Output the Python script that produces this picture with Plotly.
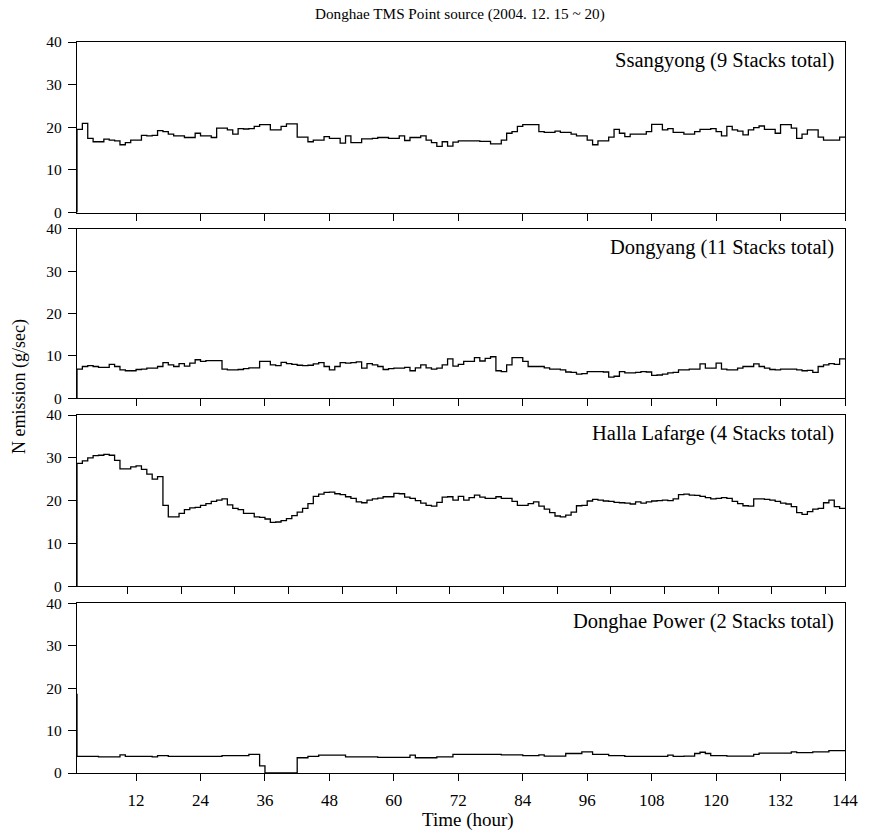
import plotly.graph_objects as go
from plotly.subplots import make_subplots

# ---------------- data (hourly N emission, g/sec) ----------------
# first value = level at hour 1 (start), value k = level held over hour k..k+1
HOURS = list(range(1, 145))

SSANGYONG = [
    0.0, 19.5, 20.9, 17.4, 16.6, 16.6, 17.2, 17.0, 16.8, 15.9,
    16.4, 17.0, 17.0, 18.1, 18.0, 18.1, 19.2, 19.0, 18.4, 18.0,
    18.0, 17.6, 17.6, 18.6, 18.0, 18.0, 17.6, 19.8, 19.8, 19.4,
    18.4, 19.7, 19.6, 19.7, 20.2, 20.6, 20.6, 19.4, 19.4, 20.2,
    20.8, 20.8, 17.7, 17.7, 16.6, 17.0, 17.0, 17.8, 17.4, 17.4,
    16.3, 18.0, 16.4, 16.4, 17.3, 17.3, 17.4, 17.6, 17.6, 17.4,
    17.4, 18.0, 16.9, 17.6, 17.6, 18.0, 17.0, 16.4, 15.5, 16.6,
    15.6, 16.5, 16.8, 16.8, 16.8, 16.8, 16.7, 16.7, 16.1, 16.1,
    17.0, 18.6, 19.0, 20.2, 20.6, 20.6, 20.6, 19.0, 18.8, 18.8,
    19.1, 18.8, 18.8, 18.4, 18.0, 18.0, 17.0, 15.9, 16.8, 16.8,
    17.7, 19.5, 18.6, 17.8, 18.4, 18.4, 18.4, 19.0, 20.7, 20.7,
    19.4, 19.7, 18.8, 18.8, 18.4, 18.4, 19.0, 19.5, 19.5, 19.7,
    19.0, 18.0, 20.2, 19.4, 19.1, 18.2, 19.4, 19.9, 20.3, 19.5,
    19.5, 18.6, 20.6, 20.6, 19.8, 17.4, 18.4, 19.4, 19.4, 17.7,
    17.0, 17.0, 17.0, 17.7,
]

DONGYANG = [
    0.0, 6.9, 7.5, 7.7, 7.5, 7.3, 7.3, 8.0, 7.5, 6.7,
    6.5, 6.5, 6.8, 6.9, 7.1, 7.1, 7.5, 8.4, 7.9, 7.5,
    8.2, 7.6, 8.3, 9.1, 8.7, 8.9, 8.9, 8.9, 6.9, 6.7,
    6.7, 6.8, 7.0, 7.2, 7.2, 8.7, 8.7, 7.9, 7.7, 8.5,
    8.2, 8.0, 7.8, 7.7, 7.8, 8.1, 8.4, 7.5, 6.7, 7.5,
    8.4, 8.3, 8.4, 8.6, 7.1, 8.2, 7.9, 7.5, 6.8, 7.0,
    7.1, 7.1, 7.3, 6.5, 7.2, 7.9, 7.2, 6.9, 7.1, 7.9,
    9.3, 7.6, 8.0, 8.7, 8.7, 9.6, 8.8, 9.4, 9.8, 6.5,
    6.3, 7.9, 9.6, 9.6, 8.7, 7.5, 7.5, 7.5, 7.2, 6.9,
    6.9, 6.7, 6.2, 6.1, 5.7, 5.8, 6.3, 6.3, 6.3, 6.2,
    5.0, 5.2, 6.3, 6.0, 6.0, 6.1, 6.3, 6.2, 5.4, 5.5,
    5.7, 6.0, 6.1, 6.7, 6.7, 6.9, 6.9, 8.1, 7.1, 7.1,
    8.3, 6.9, 6.7, 6.7, 7.1, 7.5, 7.5, 8.1, 7.5, 7.1,
    6.8, 6.7, 6.9, 6.9, 6.9, 6.7, 6.5, 6.6, 6.1, 7.5,
    7.9, 8.2, 8.0, 9.3,
]

HALLA_LAFARGE = [
    0.0, 28.7, 29.3, 30.0, 30.5, 30.6, 30.8, 30.6, 29.4, 27.4,
    27.4, 27.9, 28.1, 27.3, 26.2, 25.0, 25.6, 18.9, 16.2, 16.2,
    17.0, 17.9, 18.3, 18.4, 18.9, 19.3, 19.8, 20.1, 20.4, 19.0,
    18.2, 17.9, 17.0, 17.0, 16.2, 16.1, 15.7, 14.9, 15.0, 15.3,
    15.8, 16.5, 17.3, 18.2, 19.3, 21.0, 21.5, 21.9, 22.0, 21.6,
    21.4, 20.9, 20.5, 19.7, 19.5, 20.1, 20.4, 20.6, 20.9, 20.9,
    21.7, 21.6, 20.8, 20.5, 20.0, 19.4, 18.9, 18.7, 19.6, 20.8,
    20.9, 20.1, 21.0, 20.1, 20.7, 21.3, 20.8, 20.5, 20.5, 20.9,
    20.5, 20.5, 19.8, 18.9, 18.9, 19.3, 19.7, 18.7, 18.0, 17.2,
    16.4, 16.2, 16.6, 17.3, 18.8, 18.9, 19.9, 20.3, 20.1, 19.9,
    19.8, 19.6, 19.5, 19.4, 19.2, 19.7, 19.4, 19.7, 19.9, 20.0,
    20.1, 20.0, 20.4, 21.4, 21.5, 21.3, 21.2, 21.0, 20.7, 20.4,
    20.5, 20.7, 20.5, 19.8, 19.3, 18.8, 18.7, 20.4, 20.4, 20.3,
    20.1, 19.8, 19.4, 19.2, 18.6, 17.2, 16.8, 17.4, 18.0, 18.2,
    19.5, 20.1, 18.6, 18.2,
]

DONGHAE_POWER = [
    18.7, 3.9, 3.9, 3.9, 3.9, 3.8, 3.8, 3.8, 3.8, 4.3,
    3.9, 3.9, 3.9, 3.9, 3.9, 3.8, 4.1, 4.1, 3.9, 3.9,
    3.9, 3.9, 3.9, 3.9, 3.9, 3.9, 3.9, 3.9, 4.1, 4.1,
    4.1, 4.1, 4.1, 4.4, 4.4, 1.7, 0.0, 0.0, 0.0, 0.0,
    0.0, 0.0, 3.6, 3.6, 3.9, 3.9, 4.2, 4.2, 4.2, 4.2,
    4.2, 3.8, 3.8, 3.8, 3.8, 3.8, 3.8, 3.7, 3.7, 3.7,
    3.7, 3.7, 3.7, 4.2, 3.6, 3.6, 3.6, 3.6, 3.8, 3.8,
    3.8, 4.4, 4.4, 4.4, 4.4, 4.4, 4.4, 4.4, 4.4, 4.4,
    4.3, 4.3, 4.3, 4.3, 4.1, 4.1, 4.1, 4.3, 4.0, 4.0,
    4.0, 4.0, 4.6, 4.6, 4.6, 5.0, 5.0, 4.4, 4.4, 4.4,
    4.1, 4.1, 4.1, 3.9, 3.9, 3.9, 3.9, 3.9, 3.9, 3.9,
    3.9, 4.2, 3.9, 3.9, 4.0, 4.0, 4.6, 4.9, 4.6, 4.1,
    4.1, 4.1, 4.0, 4.0, 4.0, 4.0, 4.0, 4.4, 4.7, 4.7,
    4.7, 4.7, 4.7, 4.7, 5.0, 4.8, 4.8, 4.8, 5.0, 5.0,
    5.0, 5.3, 5.3, 5.3,
]

PANEL_LABELS = [
    "Ssangyong (9 Stacks total)",
    "Dongyang (11 Stacks total)",
    "Halla Lafarge (4 Stacks total)",
    "Donghae Power (2 Stacks total)",
]
SERIES = [SSANGYONG, DONGYANG, HALLA_LAFARGE, DONGHAE_POWER]

TITLE = "Donghae TMS Point source (2004. 12. 15 ~ 20)"
X_TITLE = "Time (hour)"
Y_TITLE = "N emission (g/sec)"
X_TICKS = [12, 24, 36, 48, 60, 72, 84, 96, 108, 120, 132, 144]
X_TICKS_P3 = [10.4 + 10 * k for k in range(14)]
Y_TICKS = [0, 10, 20, 30, 40]

# ---------------- figure ----------------
FONT = "Liberation Serif, Times New Roman, serif"
W, H = 870, 838
ML, MR, MT, MB = 77, 20, 42, 65

fig = make_subplots(rows=4, cols=1)

domains = [[0.7667, 1.0], [0.5126, 0.7444], [0.2556, 0.4897], [0.0, 0.2319]]

for i, (vals, label) in enumerate(zip(SERIES, PANEL_LABELS)):
    r = i + 1
    fig.add_trace(
        go.Scatter(x=HOURS[:len(vals)], y=vals, mode="lines",
                   line=dict(color="black", width=1.3, shape="vh"),
                   showlegend=False, hoverinfo="skip"),
        row=r, col=1)
    ya = "yaxis" if r == 1 else f"yaxis{r}"
    fig.layout[ya].domain = domains[i]
    fig.update_xaxes(
        row=r, col=1, range=[1, 144],
        tickvals=X_TICKS_P3 if r == 3 else X_TICKS,
        showticklabels=(r == 4),
        ticks="outside", ticklen=7, tickwidth=1.3, tickcolor="black",
        showline=True, mirror=True, linecolor="black", linewidth=1.3,
        showgrid=False, zeroline=False,
        tickfont=dict(family=FONT, size=17, color="black"),
        ticklabelstandoff=4,
    )
    fig.update_yaxes(
        row=r, col=1, range=[0, 40], tickvals=Y_TICKS,
        ticks="outside", ticklen=8, tickwidth=1.3, tickcolor="black",
        showline=True, mirror=True, linecolor="black", linewidth=1.3,
        showgrid=False, zeroline=False,
        tickfont=dict(family=FONT, size=15.5, color="black"),
        ticklabelstandoff=3,
    )
    yref = "y domain" if r == 1 else f"y{r} domain"
    xref = "x domain" if r == 1 else f"x{r} domain"
    fig.add_annotation(
        text=label, xref=xref, yref=yref, x=1, y=1,
        xanchor="right", yanchor="top", xshift=-9, yshift=-5,
        showarrow=False, font=dict(family=FONT, size=20.5, color="black"))

fig.add_annotation(text=TITLE, xref="paper", yref="paper",
                   x=(462 - ML) / (W - ML - MR), y=(H - MB - 14) / (H - MT - MB),
                   xanchor="center", yanchor="middle", showarrow=False,
                   font=dict(family=FONT, size=15.2, color="black"))
fig.add_annotation(text=X_TITLE, xref="paper", yref="paper",
                   x=(471 - ML) / (W - ML - MR), y=(H - MB - 820) / (H - MT - MB),
                   xanchor="center", yanchor="middle", showarrow=False,
                   font=dict(family=FONT, size=19, color="black"))
fig.add_annotation(text=Y_TITLE, xref="paper", yref="paper", textangle=-90,
                   x=(18.5 - ML) / (W - ML - MR), y=(H - MB - 386) / (H - MT - MB),
                   xanchor="center", yanchor="middle", showarrow=False,
                   font=dict(family=FONT, size=18, color="black"))

fig.update_layout(
    width=W, height=H,
    margin=dict(l=ML, r=MR, t=MT, b=MB),
    paper_bgcolor="white", plot_bgcolor="white",
    font=dict(family=FONT, color="black"),
)

fig.write_html("out.html")
